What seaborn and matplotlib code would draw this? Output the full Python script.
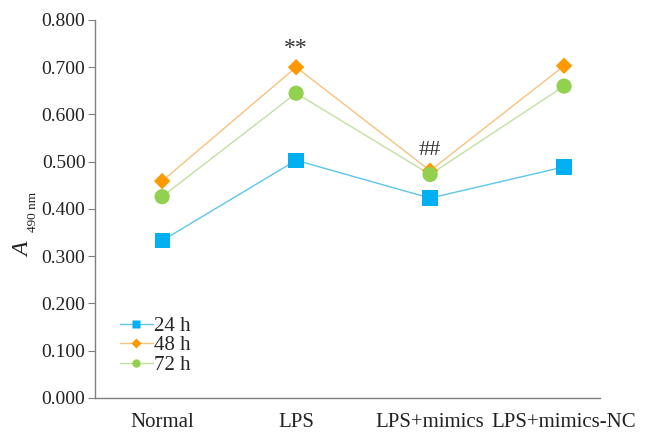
import matplotlib
matplotlib.use("Agg")
import matplotlib.pyplot as plt
import seaborn as sns
import pandas as pd
from matplotlib.lines import Line2D

categories = ["Normal", "LPS", "LPS+mimics", "LPS+mimics-NC"]
series_names = ["24 h", "48 h", "72 h"]
v24 = [0.333, 0.503, 0.423, 0.489]
v48 = [0.459, 0.700, 0.481, 0.703]
v72 = [0.426, 0.645, 0.473, 0.660]
yticks = [0.0, 0.1, 0.2, 0.3, 0.4, 0.5, 0.6, 0.7, 0.8]

sns.set_theme(style="white")
plt.rcParams["font.family"] = ["Liberation Serif", "DejaVu Serif"]

line_colors = ["#5CC6EC", "#F9C27C", "#C3E0A0"]
marker_colors = ["#00B0F0", "#FF9900", "#92D050"]
markers = ["s", "D", "o"]
msizes = [120, 70, 120]

fig = plt.figure(figsize=(6.56, 4.34), dpi=100)
ax = fig.add_axes([0.145, 0.083, 0.77, 0.871])

rows = []
for name, vals in zip(series_names, [v24, v48, v72]):
    for i, (c, v) in enumerate(zip(categories, vals)):
        rows.append({"x": i, "group": c, "series": name, "value": v})
df = pd.DataFrame(rows)

for k, name in enumerate(series_names):
    sub = df[df["series"] == name]
    sns.lineplot(data=sub, x="x", y="value", color=line_colors[k], lw=1.0, ax=ax, legend=False)
    sns.scatterplot(data=sub, x="x", y="value", color=marker_colors[k], marker=markers[k],
                    s=msizes[k], edgecolor="none", ax=ax, legend=False, zorder=3)

ax.text(1, 0.718, "**", ha="center", va="bottom", fontsize=17, color="#333333")
ax.text(2, 0.503, "##", ha="center", va="bottom", fontsize=16, color="#333333")

ax.set_xlim(-0.5, 3.27)
ax.set_ylim(0, 0.8)
ax.set_yticks(yticks)
ax.set_yticklabels([f"{t:.3f}" for t in yticks], fontsize=14, color="#222222")
ax.set_xticks(range(len(categories)))
ax.set_xticklabels(categories, fontsize=15, color="#222222")
ax.tick_params(axis="y", direction="out", length=5, width=0.8, color="#808080", left=True, pad=2)
ax.tick_params(axis="x", length=0, pad=11)
ax.set_xlabel("")
ax.set_ylabel("")
# y-axis label: italic A with small upright subscript "490 nm"
ax.text(-0.1415, 0.393, "A", transform=ax.transAxes, rotation=90, ha="center", va="center",
        fontsize=17, style="italic", color="#222222")
ax.text(-0.123, 0.492, "490 nm", transform=ax.transAxes, rotation=90, ha="center", va="center",
        fontsize=9.5, color="#222222")

for s in ["top", "right"]:
    ax.spines[s].set_visible(False)
for s in ["left", "bottom"]:
    ax.spines[s].set_color("#808080")
    ax.spines[s].set_linewidth(1.0)

handles = [Line2D([0], [0], color=line_colors[k], lw=1.0, marker=markers[k],
                  markerfacecolor=marker_colors[k], markeredgecolor="none",
                  markersize=[6, 5, 6][k]) for k in range(3)]
ax.legend(handles, series_names, loc="lower left", bbox_to_anchor=(0.02, 0.022),
          frameon=False, fontsize=15, handlelength=1.6, handletextpad=0.05,
          labelspacing=0.0, borderpad=0.2)

fig.savefig("out.png", dpi=100)
